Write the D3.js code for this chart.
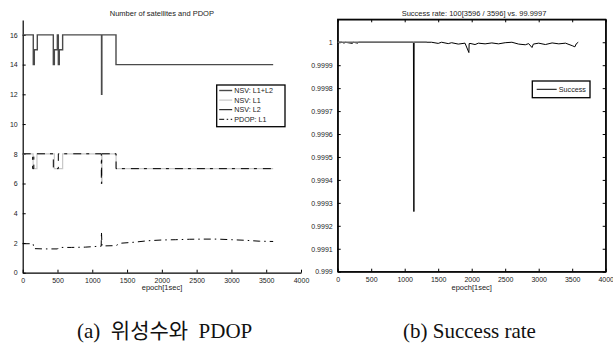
<!DOCTYPE html>
<html>
<head>
<meta charset="utf-8">
<script src="https://cdn.jsdelivr.net/npm/d3@7"></script>
<style>
  body { margin: 0; background: #fff; }
  svg { display: block; font-family: "Liberation Sans", Arial, sans-serif; }
  .tick text { font-size: 7px; fill: #222; }
  .caption { font-family: "Liberation Serif", "Noto Sans CJK KR", serif; font-size: 21px; fill: #111; white-space: pre; }
</style>
</head>
<body>
<svg id="chart" width="613" height="345"></svg>
<script>
// left plot: number of satellites and PDOP
const nsvSumEpoch = [0, 152, 167, 210, 440, 455, 498, 512, 526, 574, 1133, 1138, 1341, 3600];
const nsvSumValue = [16, 14, 15, 16, 14, 15, 16, 14, 15, 16, 12, 16, 14, 14];
const nsvL1Epoch = [0, 150, 205, 455, 574, 1135, 1140, 1342, 3600];
const nsvL1Value = [8, 7, 8, 7, 8, 6, 8, 7, 7];
const nsvL2Epoch = [0, 143, 160, 440, 512, 1130, 1135, 1342, 3600];
const nsvL2Value = [8, 7, 8, 7, 8, 6, 8, 7, 7];
const pdopEpoch = [0, 150, 160, 300, 500, 520, 700, 900, 1100, 1128, 1132, 1140, 1340, 1400, 1600, 1800, 2000, 2200, 2400, 2600, 2800, 3000, 3200, 3400, 3600];
const pdopValue = [1.95, 1.95, 1.62, 1.6, 1.6, 1.7, 1.7, 1.72, 1.78, 1.78, 2.75, 1.8, 1.82, 1.98, 2.05, 2.15, 2.2, 2.22, 2.25, 2.26, 2.26, 2.22, 2.18, 2.12, 2.1];
const leftYTicks = [0, 2, 4, 6, 8, 10, 12, 14, 16];
const legendLeft = ["NSV: L1+L2", "NSV: L1", "NSV: L2", "PDOP: L1"];

// right plot: success rate
const grayEpoch = [0, 1330];
const grayRate = [1, 1];
const successEpoch = [0, 60, 100, 110, 220, 230, 300, 310, 1130, 1137, 1141, 1400, 1500, 1550, 1650, 1700, 1800, 1900, 1958, 1962, 1975, 2050, 2100, 2200, 2300, 2400, 2500, 2600, 2700, 2800, 2850, 2900, 2920, 3000, 3100, 3200, 3300, 3400, 3500, 3540, 3560, 3590];
const successRate = [1, 1, 0.999996, 1, 0.999995, 1, 0.999996, 1, 1, 0.999262, 1, 1, 0.999995, 1, 0.999994, 0.999998, 0.999992, 0.999996, 0.999955, 0.999994, 0.999995, 0.99999, 0.999996, 0.999993, 0.999997, 0.999993, 0.999998, 1, 0.999992, 0.999989, 0.999994, 0.999977, 0.999992, 0.999996, 0.99999, 0.999997, 0.999993, 0.999996, 0.999985, 0.99998, 0.999993, 1];
const rightYLabels = ["0.999", "0.9991", "0.9992", "0.9993", "0.9994", "0.9995", "0.9996", "0.9997", "0.9998", "0.9999", "1"];

const xTicks = [0, 500, 1000, 1500, 2000, 2500, 3000, 3500, 4000];
const captions = ["(a)  위성수와  PDOP", "(b) Success rate"];

const svg = d3.select("#chart");

function styleAxis(g) {
  g.select(".domain").attr("stroke", "#000").attr("stroke-width", 1.2);
  g.selectAll(".tick line").attr("stroke", "#000");
}

// ---------- left plot ----------
const xL = d3.scaleLinear().domain([0, 4000]).range([22.7, 301]);
const yL = d3.scaleLinear().domain([0, 17]).range([272.7, 20]);

svg.append("g")
  .attr("transform", "translate(0,272.7)")
  .call(d3.axisBottom(xL).tickValues(xTicks).tickSizeInner(-3).tickSizeOuter(0).tickPadding(5).tickFormat(d3.format("d")))
  .call(styleAxis);

svg.append("g")
  .attr("transform", "translate(22.7,0)")
  .call(d3.axisLeft(yL).tickValues(leftYTicks).tickSizeInner(-3).tickSizeOuter(0).tickPadding(5))
  .call(styleAxis);

const stepLine = (xs, ys, x, y) => d3.line()
  .x(i => x(xs[i])).y(i => y(ys[i]))
  .curve(d3.curveStepAfter)(d3.range(xs.length));

svg.append("path")
  .attr("d", stepLine(nsvSumEpoch, nsvSumValue, xL, yL))
  .attr("fill", "none").attr("stroke", "#4a4a4a").attr("stroke-width", 1.4);

svg.append("path")
  .attr("d", stepLine(nsvL1Epoch, nsvL1Value, xL, yL))
  .attr("fill", "none").attr("stroke", "#c8c8c8").attr("stroke-width", 1.2);

svg.append("path")
  .attr("d", stepLine(nsvL2Epoch, nsvL2Value, xL, yL))
  .attr("fill", "none").attr("stroke", "#000").attr("stroke-width", 1)
  .attr("stroke-dasharray", "8,5,3,6");

const pdopLine = d3.line()
  .x(i => xL(pdopEpoch[i])).y(i => yL(pdopValue[i]));

svg.append("path")
  .attr("d", pdopLine(d3.range(pdopEpoch.length)))
  .attr("fill", "none").attr("stroke", "#000").attr("stroke-width", 1)
  .attr("stroke-dasharray", "7,4,1.5,4");

svg.append("text")
  .attr("x", (xL.range()[0] + xL.range()[1]) / 2).attr("y", 15.5)
  .attr("text-anchor", "middle").attr("font-size", 7.5).attr("fill", "#222")
  .text("Number of satellites and PDOP");

svg.append("text")
  .attr("x", 162).attr("y", 289.5)
  .attr("text-anchor", "middle").attr("font-size", 7.5).attr("fill", "#222")
  .text("epoch[1sec]");

// left legend
const legL = svg.append("g").attr("transform", "translate(216.7,85)");
legL.append("rect").attr("width", 68.3).attr("height", 41.7)
  .attr("fill", "#fff").attr("stroke", "#000").attr("stroke-width", 1.3);
const legStyles = [
  { stroke: "#4a4a4a", width: 1.4, dash: null },
  { stroke: "#c8c8c8", width: 1.2, dash: null },
  { stroke: "#000", width: 1, dash: null },
  { stroke: "#000", width: 1, dash: "5,2.5,1.5,2.5" }
];
legendLeft.forEach((name, i) => {
  const yy = 5.5 + i * 9.6;
  legL.append("line").attr("x1", 2.5).attr("x2", 15.5).attr("y1", yy).attr("y2", yy)
    .attr("stroke", legStyles[i].stroke).attr("stroke-width", legStyles[i].width)
    .attr("stroke-dasharray", legStyles[i].dash);
  legL.append("text").attr("x", 17.5).attr("y", yy + 2.5)
    .attr("font-size", 7.2).attr("fill", "#222").text(name);
});

// ---------- right plot ----------
const xR = d3.scaleLinear().domain([0, 4000]).range([337.7, 605.7]);
const yR = d3.scaleLinear().domain([0.999, 1.0001]).range([271.7, 19.3]);
const rightYTicks = rightYLabels.map(Number);

svg.append("rect")
  .attr("x", 337.7).attr("y", 19.3).attr("width", 268).attr("height", 252.4)
  .attr("fill", "none").attr("stroke", "#000").attr("stroke-width", 1.2);

svg.append("g")
  .attr("transform", "translate(0,271.7)")
  .call(d3.axisBottom(xR).tickValues(xTicks).tickSizeInner(-3).tickSizeOuter(0).tickPadding(5).tickFormat(d3.format("d")))
  .call(styleAxis);
svg.append("g")
  .attr("transform", "translate(0,19.3)")
  .call(d3.axisTop(xR).tickValues(xTicks).tickSizeInner(-3).tickSizeOuter(0).tickFormat(""))
  .call(styleAxis);
svg.append("g")
  .attr("transform", "translate(337.7,0)")
  .call(d3.axisLeft(yR).tickValues(rightYTicks).tickSizeInner(-3).tickSizeOuter(0).tickPadding(5)
    .tickFormat((d, i) => rightYLabels[i]))
  .call(styleAxis);
svg.append("g")
  .attr("transform", "translate(605.7,0)")
  .call(d3.axisRight(yR).tickValues(rightYTicks).tickSizeInner(-3).tickSizeOuter(0).tickFormat(""))
  .call(styleAxis);

const rateLine = (xs, ys) => d3.line()
  .x(i => xR(xs[i])).y(i => yR(ys[i]))(d3.range(xs.length));

svg.append("path")
  .attr("d", rateLine(successEpoch, successRate))
  .attr("fill", "none").attr("stroke", "#000").attr("stroke-width", 1);

svg.append("path")
  .attr("d", rateLine(grayEpoch, grayRate))
  .attr("fill", "none").attr("stroke", "#6a6a6a").attr("stroke-width", 1.6);

svg.append("text")
  .attr("x", 474).attr("y", 15.5)
  .attr("text-anchor", "middle").attr("font-size", 7.5).attr("fill", "#222")
  .text("Success rate: 100[3596 / 3596] vs. 99.9997");

svg.append("text")
  .attr("x", 471.7).attr("y", 289.5)
  .attr("text-anchor", "middle").attr("font-size", 7.5).attr("fill", "#222")
  .text("epoch[1sec]");

const legR = svg.append("g").attr("transform", "translate(532.3,81)");
legR.append("rect").attr("width", 57.7).attr("height", 16.7)
  .attr("fill", "#fff").attr("stroke", "#000").attr("stroke-width", 1.3);
legR.append("line").attr("x1", 4.4).attr("x2", 24.4).attr("y1", 8.3).attr("y2", 8.3)
  .attr("stroke", "#000").attr("stroke-width", 1);
legR.append("text").attr("x", 26.5).attr("y", 10.8)
  .attr("font-size", 7.2).attr("fill", "#222").text("Success");

// captions
svg.append("text").attr("class", "caption").attr("x", 77).attr("y", 338).text(captions[0]);
svg.append("text").attr("class", "caption").attr("x", 403).attr("y", 338).text(captions[1]);
</script>
</body>
</html>
